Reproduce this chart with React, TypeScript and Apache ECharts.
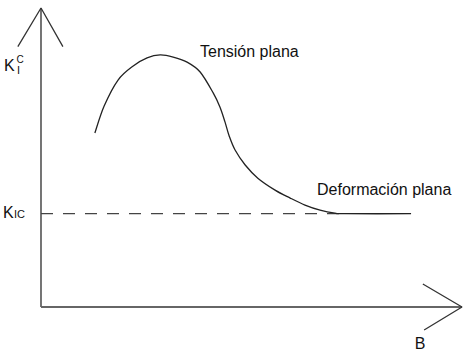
import React, { useEffect, useRef } from "react";
import * as echarts from "echarts";

// Curve K_I^C versus thickness B (schematic, data units 0..100)
const curveB = [12.8, 15.0, 18.3, 21.9, 25.2, 28.3, 31.4, 34.7, 37.8, 40.9, 42.5, 43.7, 44.7, 46.1, 48.5, 51.5, 55.6, 59.1, 62.7, 66.3, 69.8, 72.2, 87.9];
const curveK = [58.2, 67.2, 75.9, 80.6, 83.3, 84.3, 83.6, 81.9, 78.6, 71.6, 66.9, 61.9, 57.2, 52.5, 47.5, 43.1, 39.1, 36.5, 34.1, 32.4, 31.4, 31.2, 31.2];
const kicValue = 31.2;
const kicDashEnd = 72.2;
const axisMax = 100;

export default function App() {
  const ref = useRef<HTMLDivElement>(null);
  useEffect(() => {
    if (!ref.current) return;
    const chart = echarts.init(ref.current, null, { renderer: "svg" });
    const axisStyle = { color: "#666666", width: 1.8 };
    const curveData = curveB.map((b, i) => [b, curveK[i]]);
    const mk = (data: number[][], style: any, z = 2) => ({
      type: "line",
      data,
      symbol: "none",
      clip: false,
      silent: true,
      z,
      lineStyle: style,
    });
    const font = "16px 'Liberation Sans', Arial, sans-serif";
    chart.setOption({
      animation: false,
      backgroundColor: "#ffffff",
      grid: { left: 1, top: 8, width: 461, height: 299 },
      xAxis: { type: "value", min: -9.5, max: axisMax, show: false },
      yAxis: { type: "value", min: 0, max: axisMax, show: false },
      series: [
        mk([[0, 0], [0, axisMax]], axisStyle),
        mk([[0, 0], [axisMax, 0]], axisStyle),
        mk([[-5.5, 87.1], [0, axisMax], [5.2, 87.1]], { color: "#333333", width: 1.3 }),
        mk([[90.7, 7.7], [axisMax, 0], [91, -7.7]], { color: "#333333", width: 1.3 }),
        mk([[0, kicValue], [kicDashEnd, kicValue]], { color: "#444444", width: 1.2, type: [12, 10] }),
        {
          type: "custom",
          silent: true,
          z: 3,
          data: [curveData[0]],
          clip: false,
          renderItem: (params: any, api: any) => {
            if (params.dataIndex !== 0) return null;
            const pts = curveData.map((p) => api.coord(p));
            const n = pts.length;
            let d = `M${pts[0][0]},${pts[0][1]}`;
            for (let i = 0; i < n - 1; i++) {
              const p0 = pts[Math.max(i - 1, 0)];
              const p1 = pts[i];
              const p2 = pts[i + 1];
              const p3 = pts[Math.min(i + 2, n - 1)];
              const c1x = p1[0] + (p2[0] - p0[0]) / 6;
              const c1y = p1[1] + (p2[1] - p0[1]) / 6;
              const c2x = p2[0] - (p3[0] - p1[0]) / 6;
              const c2y = p2[1] - (p3[1] - p1[1]) / 6;
              d += ` C${c1x},${c1y} ${c2x},${c2y} ${p2[0]},${p2[1]}`;
            }
            return {
              type: "path",
              shape: { pathData: d },
              style: { fill: "none", stroke: "#222222", lineWidth: 1.3 },
            };
          },
        },
      ],
      graphic: [
        { type: "text", x: 200, y: 51, style: { text: "Tensión plana", font, fill: "#111", textVerticalAlign: "middle" } },
        { type: "text", x: 317, y: 189, style: { text: "Deformación plana", font, fill: "#111", textVerticalAlign: "middle" } },
        { type: "text", x: 420, y: 343, style: { text: "B", font, fill: "#111", textAlign: "center", textVerticalAlign: "middle" } },
        { type: "text", x: 4, y: 65, style: { text: "K", font, fill: "#111", textVerticalAlign: "middle" } },
        { type: "text", x: 16.5, y: 59, style: { text: "C", font: "10px 'Liberation Sans', Arial, sans-serif", fill: "#111", textVerticalAlign: "middle" } },
        { type: "text", x: 17, y: 70, style: { text: "I", font: "11px 'Liberation Sans', Arial, sans-serif", fill: "#111", textVerticalAlign: "middle" } },
        { type: "text", x: 3, y: 212, style: { text: "K", font, fill: "#111", textVerticalAlign: "middle" } },
        { type: "text", x: 14, y: 214, style: { text: "IC", font: "11px 'Liberation Sans', Arial, sans-serif", fill: "#111", textVerticalAlign: "middle" } },
      ],
    });
    return () => chart.dispose();
  }, []);
  return <div ref={ref} style={{ position: "fixed", left: 0, top: 0, width: 466, height: 354 }} />;
}
